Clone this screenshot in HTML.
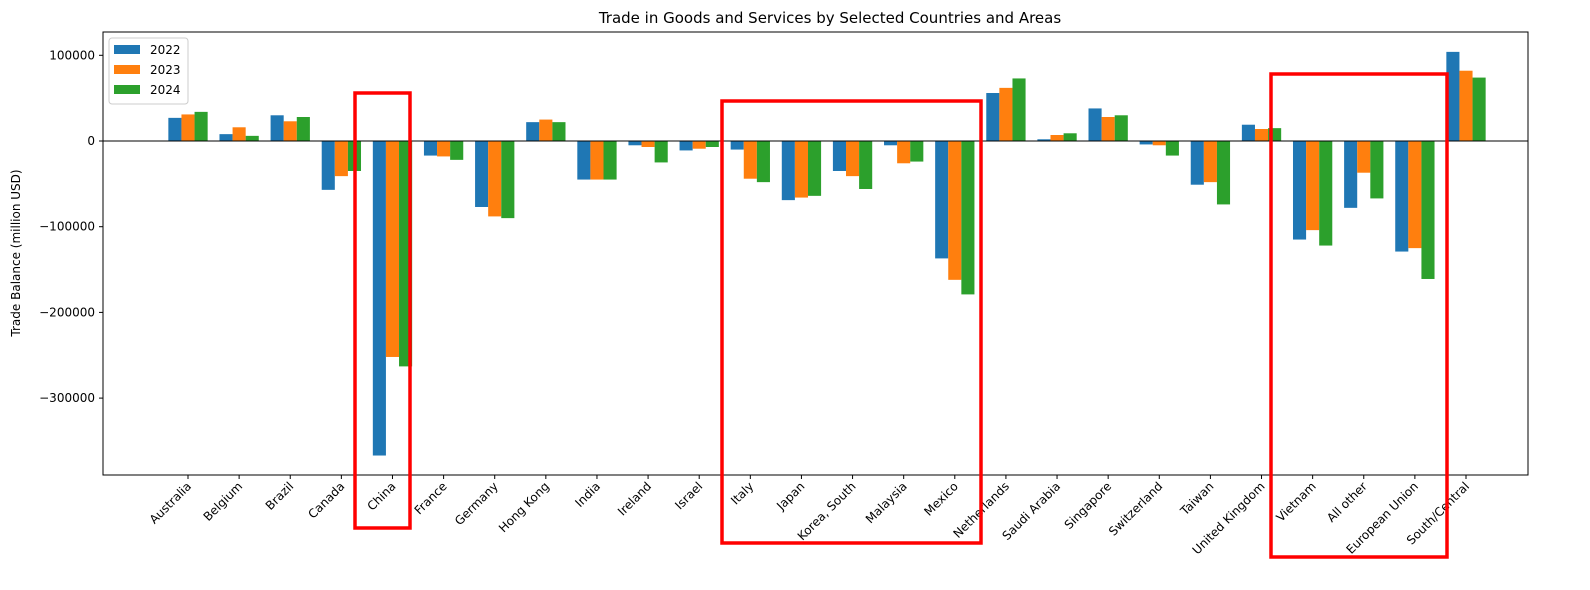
<!DOCTYPE html>
<html><head><meta charset="utf-8"><style>
html,body{margin:0;padding:0;background:#fff;overflow:hidden;width:1590px;height:590px}
svg{display:block}
</style></head><body>
<svg id="chart" width="1590" height="590" xmlns="http://www.w3.org/2000/svg" font-family="DejaVu Sans, Liberation Sans, sans-serif">
<rect width="1590" height="590" fill="#fff"/>
<text x="830" y="23" text-anchor="middle" font-size="15">Trade in Goods and Services by Selected Countries and Areas</text>
<text transform="translate(20,253) rotate(-90)" text-anchor="middle" font-size="12">Trade Balance (million USD)</text>
<g id="bars"></g><g id="axes"></g><g id="boxes"></g>
</svg>
<script>
const categories=["Australia","Belgium","Brazil","Canada","China","France","Germany","Hong Kong","India","Ireland","Israel","Italy","Japan","Korea, South","Malaysia","Mexico","Netherlands","Saudi Arabia","Singapore","Switzerland","Taiwan","United Kingdom","Vietnam","All other","European Union","South/Central"];
const series2022=[27000,8000,30000,-57000,-367000,-17000,-77000,22000,-45000,-5000,-11000,-10000,-69000,-35000,-5000,-137000,56000,2000,38000,-4000,-51000,19000,-115000,-78000,-129000,104000];
const series2023=[31000,16000,23000,-41000,-252000,-18000,-88000,25000,-45000,-7000,-9000,-44000,-66000,-41000,-26000,-162000,62000,7000,28000,-5000,-48000,14000,-104000,-37000,-125000,82000];
const series2024=[34000,6000,28000,-35000,-263000,-22000,-90000,22000,-45000,-25000,-7000,-48000,-64000,-56000,-24000,-179000,73000,9000,30000,-17000,-74000,15000,-122000,-67000,-161000,74000];
const seriesNames=["2022","2023","2024"];
const yTicks=[100000,0,-100000,-200000,-300000];
const NS="http://www.w3.org/2000/svg";
const L=103,R=1528,T=32,B=475;
const x=i=>188+i*51.12;
const y=v=>141-v*0.000857;
const colors=["#1f77b4","#ff7f0e","#2ca02c"];
const all=[series2022,series2023,series2024];
function mk(tag,attrs,parent){const e=document.createElementNS(NS,tag);for(const k in attrs)e.setAttribute(k,attrs[k]);parent.appendChild(e);return e;}
const gb=document.getElementById('bars'),ga=document.getElementById('axes'),gx=document.getElementById('boxes');
const bw=13.1;
all.forEach((s,si)=>{s.forEach((v,i)=>{
 const cx=x(i)+(si-1)*bw;
 const r=mk('rect',{x:cx-bw/2,y:Math.min(y(v),y(0)),width:bw,height:Math.abs(y(v)-y(0)),fill:colors[si]},gb);
 
 
});});
const zl=mk('line',{x1:L,x2:R,y1:y(0),y2:y(0),stroke:'#000','stroke-width':1},ga);


const fr=mk('rect',{x:L,y:T,width:R-L,height:B-T,fill:'none',stroke:'#000','stroke-width':1},ga);


yTicks.forEach(v=>{
 mk('line',{x1:L-4,x2:L,y1:y(v),y2:y(v),stroke:'#000'},ga);
 const t=mk('text',{x:L-8,y:y(v)+4,'text-anchor':'end','font-size':12},ga);
 t.textContent=v<0?'\u2212'+(-v):String(v);
 
 
});
categories.forEach((c,i)=>{
 mk('line',{x1:x(i),x2:x(i),y1:B,y2:B+4,stroke:'#000'},ga);
 const t=mk('text',{transform:`translate(${x(i)+4},${B+12}) rotate(-45)`,'text-anchor':'end','font-size':12},ga);
 t.textContent=c;
 
 
});
const lg=mk('g',{},ga);


mk('rect',{x:109,y:38,width:79,height:66,fill:'#fff',stroke:'#ccc',rx:3},lg);
seriesNames.forEach((n,si)=>{
 mk('rect',{x:114,y:45+si*20,width:26,height:9,fill:colors[si]},lg);
 const t=mk('text',{x:150,y:54+si*20,'font-size':12},lg);
 t.textContent=n;
 
 
});
[[355,93,55,435],[722,101,259,442],[1271,74,176,483]].forEach(b=>{
 const r=mk('rect',{x:b[0],y:b[1],width:b[2],height:b[3],fill:'none',stroke:'#ff0000','stroke-width':3.5},gx);
 
 
});
</script>
</body></html>
